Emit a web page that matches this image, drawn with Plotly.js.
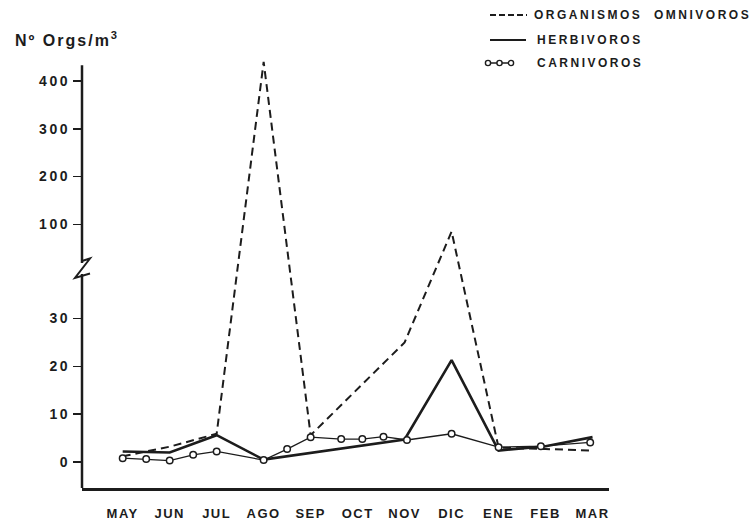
<!DOCTYPE html>
<html>
<head>
<meta charset="utf-8">
<script src="https://cdn.plot.ly/plotly-3.0.1.min.js"></script>
<style>
  html, body { margin: 0; padding: 0; background: #fff; }
  #chart { width: 755px; height: 523px; }
  .xtick text { letter-spacing: 1.5px; }
  .ytick text { letter-spacing: 2.6px; }
  .annotation-text { letter-spacing: 2px; }
</style>
</head>
<body>
<div id="chart"></div>
<script>
// Month labels (May .. March)
const months = ["MAY", "JUN", "JUL", "AGO", "SEP", "OCT", "NOV", "DIC", "ENE", "FEB", "MAR"];
const monthPos = [0, 1, 2, 3, 4, 5, 6, 7, 8, 9, 10];

// Organismos omnívoros (monthly, Nº orgs/m3)
const omniY = [1.2, 3.2, 5.9, 440, 5.6, null, 25, 85, 3.0, 2.7, 2.4];

// Herbívoros (monthly, Nº orgs/m3)
const herbY = [2.2, 2.0, 5.6, 0.5, null, null, 4.7, 21.3, 2.4, 3.3, 5.2];

// Carnívoros (sampled about every two weeks; position in month units)
const carnX = [0, 0.5, 1, 1.5, 2, 3, 3.5, 4, 4.65, 5.1, 5.55, 6.05, 7, 8, 8.9, 9.95];
const carnY = [0.8, 0.6, 0.3, 1.5, 2.2, 0.4, 2.7, 5.2, 4.8, 4.8, 5.3, 4.6, 5.9, 3.1, 3.3, 4.1];

// Series names shown in the key
const seriesNames = ["ORGANISMOS\u00a0 OMNIVOROS", "HERBIVOROS", "CARNIVOROS"];

// Y tick labels on both sides of the axis break
const lowTicks = [0, 10, 20, 30];
const highTicks = [100, 200, 300, 400];

// Broken y axis: values up to BREAK are drawn at full scale,
// larger values on a 1:10 compressed scale above the break.
const BREAK = 40;
const HIGH_BASE = 39.7;
const HIGH_SCALE = 0.1;
function toAxis(v) {
  if (v === null) return null;
  return v <= BREAK ? v : HIGH_BASE + v * HIGH_SCALE;
}

const INK = "#1c1c1c";
const FONT = "Liberation Sans, Arial, sans-serif";

// Plot-area geometry (pixels) used for the axis decorations and the key
const M = { l: 82, r: 146, t: 58, b: 35 };
const W = 755, H = 523;
const plotW = W - M.l - M.r, plotH = H - M.t - M.b;
const Y_RANGE = [-5.44, 84.5];
const X_RANGE = [-0.866, 10.35];
const AXIS_TOP = 83.0;   // where the drawn y axis line stops
function pxX(px) { return (px - M.l) / plotW; }
function pxPY(py) { return (M.t + plotH - py) / plotH; }
function pxY(py) { return Y_RANGE[0] + pxPY(py) * (Y_RANGE[1] - Y_RANGE[0]); }

const DASH = "8px,5px";
const traces = [
  {
    name: seriesNames[0],
    x: monthPos, y: omniY.map(toAxis),
    mode: "lines", connectgaps: true,
    line: { color: INK, width: 2, dash: DASH },
    hoverinfo: "skip"
  },
  {
    name: seriesNames[1],
    x: monthPos, y: herbY.map(toAxis),
    mode: "lines", connectgaps: true,
    line: { color: INK, width: 2.6 },
    hoverinfo: "skip"
  },
  {
    name: seriesNames[2],
    x: carnX, y: carnY.map(toAxis),
    mode: "lines+markers",
    line: { color: INK, width: 1.3 },
    marker: { symbol: "circle", size: 6.5, color: "#fff", line: { color: INK, width: 1.5 } },
    hoverinfo: "skip"
  }
];

// Axis-break "Z" mark on the y axis
const brk = [[82, 261], [90, 258.5], [75, 278], [90, 273.5]];
const brkPath = brk.map((p, i) => (i ? "L" : "M") + pxX(p[0]) + "," + pxY(p[1])).join(" ");

// Key in the top-right corner
const keyRows = [15, 40, 63];
const keyShapes = [
  { type: "line", xref: "paper", yref: "paper",
    x0: pxX(490), x1: pxX(527), y0: pxPY(keyRows[0]), y1: pxPY(keyRows[0]),
    line: { color: INK, width: 1.8, dash: "6px,3px" } },
  { type: "line", xref: "paper", yref: "paper",
    x0: pxX(490), x1: pxX(526), y0: pxPY(keyRows[1]), y1: pxPY(keyRows[1]),
    line: { color: INK, width: 2.2 } },
  { type: "line", xref: "paper", yref: "paper",
    x0: pxX(488), x1: pxX(511), y0: pxPY(keyRows[2]), y1: pxPY(keyRows[2]),
    line: { color: INK, width: 1.5 } }
].concat([488, 499.5, 511].map(cx => ({
  type: "circle", xref: "paper", yref: "paper",
  x0: pxX(cx - 2.6), x1: pxX(cx + 2.6), y0: pxPY(keyRows[2] + 2.6), y1: pxPY(keyRows[2] - 2.6),
  fillcolor: "#fff", line: { color: INK, width: 1.4 }
})));
const keyTextX = [532, 535, 535];
const keyAnnotations = seriesNames.map((name, i) => ({
  text: '<span style="letter-spacing:2.5px">' + name + '</span>',
  xref: "paper", yref: "paper", x: pxX(keyTextX[i]), y: pxPY(keyRows[i]),
  xanchor: "left", yanchor: "middle", showarrow: false,
  font: { family: FONT, size: 12, color: INK, weight: "bold" }
}));

const layout = {
  width: W, height: H,
  margin: M,
  paper_bgcolor: "#fff", plot_bgcolor: "#fff",
  font: { family: FONT, color: INK, size: 13 },
  showlegend: false,
  xaxis: {
    range: X_RANGE, tickvals: monthPos, ticktext: months,
    showgrid: false, zeroline: false, ticks: "",
    showline: true, linecolor: INK, linewidth: 2.5,
    ticklabelstandoff: 12,
    tickfont: { family: FONT, size: 13, color: INK, weight: "bold" }
  },
  yaxis: {
    range: Y_RANGE,
    tickvals: lowTicks.map(toAxis).concat(highTicks.map(toAxis)),
    ticktext: lowTicks.map(String).concat(highTicks.map(String)),
    showgrid: false, zeroline: false, showline: false,
    ticks: "outside", ticklen: 8, tickwidth: 1.5, tickcolor: INK,
    ticklabelstandoff: 0,
    tickfont: { family: FONT, size: 14, color: INK, weight: "bold" }
  },
  shapes: [
    // y axis line (stops a little below the top of the plot area)
    { type: "line", xref: "paper", yref: "y", x0: 0, x1: 0, y0: Y_RANGE[0], y1: AXIS_TOP,
      line: { color: INK, width: 2.5 } },
    // gap in the axis at the break
    { type: "line", xref: "paper", yref: "y", x0: 0, x1: 0, y0: pxY(274), y1: pxY(263),
      line: { color: "#fff", width: 4 } },
    { type: "path", xref: "paper", yref: "y", path: brkPath,
      line: { color: INK, width: 2 } }
  ].concat(keyShapes),
  annotations: [
    { text: "Nº Orgs/m<sup>3</sup>", xref: "paper", yref: "paper",
      x: pxX(13), y: pxPY(39), xanchor: "left", yanchor: "middle",
      showarrow: false, font: { family: FONT, size: 16, color: INK, weight: "bold" } }
  ].concat(keyAnnotations)
};

Plotly.newPlot("chart", traces, layout, { displayModeBar: false, staticPlot: true });
</script>
</body>
</html>
